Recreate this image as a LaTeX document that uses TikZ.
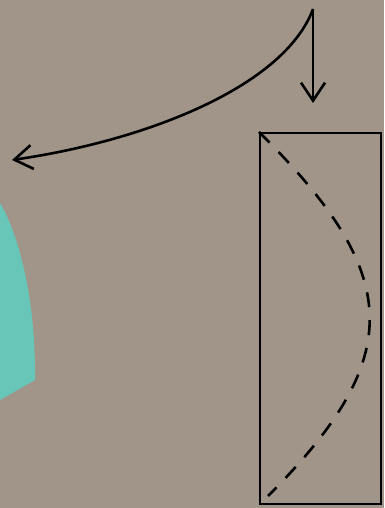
\documentclass[tikz,border=0pt]{standalone}
\usepackage{xcolor}
\usepackage{tikz}
\usetikzlibrary{arrows.meta}

\definecolor{board}{RGB}{160,149,136}
\definecolor{paper}{RGB}{104,198,184}

\begin{document}
\begin{tikzpicture}[
    x=1pt, y=1pt,
    arr/.style={-{Straight Barb[length=18pt, width=24pt, line width=2.6pt]}, line width=2.6pt},
    frame/.style={draw, line width=1.6pt},
    fold/.style={line width=2.6pt, dash pattern=on 15pt off 13pt}
]

% Background board
\fill[board] (0,0) rectangle (384,508);
\useasboundingbox (0,0) rectangle (384,508);

% Teal paper piece at the left edge
\fill[paper] (0,305) .. controls (18,275) and (36,210) .. (35,128) -- (0,108) -- cycle;

% Points
\coordinate (src) at (313,499);
\coordinate (left) at (12,348);
\coordinate (down) at (313,405);

% Arrows
\draw[arr] (src) .. controls (285,423) and (150,368) .. (left);
\draw[arr] (src) -- (down);

% Frame with fold line
\node[frame, minimum width=121pt, minimum height=371pt, inner sep=0pt, anchor=north west] (box) at (259,376) {};
\draw[fold] (box.north west) .. controls (401,235) and (409,153) .. (268,12);

\end{tikzpicture}
\end{document}
